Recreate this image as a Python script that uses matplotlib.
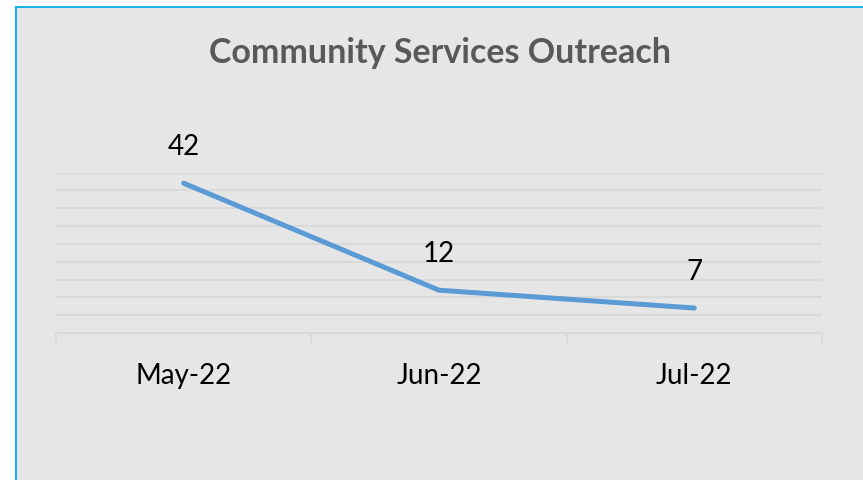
import matplotlib.pyplot as plt
from matplotlib.patches import Rectangle
from matplotlib.lines import Line2D

# data
months = ["May-22", "Jun-22", "Jul-22"]
outreach = [42, 12, 7]

W, H = 863, 480
fig = plt.figure(figsize=(W/100, H/100), dpi=100)
fig.patch.set_facecolor("white")

# chart area background with blue border (left and top)
bg = "#e6e6e6"
x0, y0 = 16/W, 1 - 7/H
fig.patches.append(Rectangle((x0, 0), 1 - x0, y0, transform=fig.transFigure,
                             facecolor=bg, edgecolor="none", zorder=-5))
blue = "#1ab0e8"
fig.lines.append(Line2D([x0, x0], [0, y0], transform=fig.transFigure, color=blue, lw=1.5, zorder=-4))
fig.lines.append(Line2D([x0, 1], [y0, y0], transform=fig.transFigure, color=blue, lw=1.5, zorder=-4))

ax = fig.add_axes([56/W, 1 - 333/H, (822 - 56)/W, (333 - 172.5)/H])
ax.set_facecolor("none")
ax.set_zorder(2)

x = range(len(months))
ax.plot(x, outreach, color="#5b9bd5", lw=3.6, solid_capstyle="round", zorder=3)

ax.set_xlim(-0.5, len(months) - 0.5)
ax.set_ylim(0, 45)
for v in range(5, 50, 5):
    ax.axhline(v, color="#d9d9d9", lw=1.5, zorder=1)

for s in ["top", "right", "left"]:
    ax.spines[s].set_visible(False)
ax.spines["bottom"].set_color("#d9d9d9")
ax.spines["bottom"].set_linewidth(1.5)
ax.set_yticks([])

# category boundaries as tick marks, labels centred
ax.set_xticks([i - 0.5 for i in range(len(months) + 1)])
ax.set_xticklabels([])
ax.tick_params(axis="x", length=7, width=1.5, color="#d9d9d9", direction="out")
for i, m in enumerate(months):
    ax.text(i, -12, m, ha="center", va="center", fontsize=20, family="Lato",
            color="black", clip_on=False)

for i, v in enumerate(outreach):
    ax.annotate(str(v), (i, v), xytext=(0, 26), textcoords="offset points",
                ha="center", va="center", fontsize=20, family="Lato", color="black",
                annotation_clip=False)

fig.text(440/W, 1 - 53/H, "Community Services Outreach", ha="center", va="center",
         fontsize=24.5, fontweight="bold", family="Lato", color="#595959")

fig.savefig("out.png", dpi=100)
